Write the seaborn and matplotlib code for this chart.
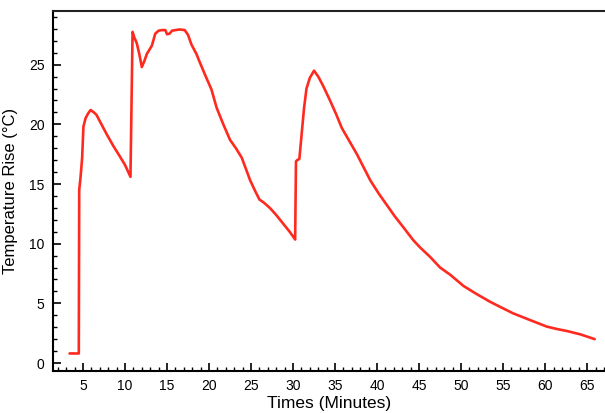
import matplotlib
matplotlib.use("Agg")
import matplotlib.pyplot as plt
from matplotlib.ticker import MultipleLocator
import seaborn as sns
import pandas as pd

time_min = [3.4, 4.5, 4.55, 4.7, 4.9, 5.05, 5.3, 5.6, 5.9, 6.3, 6.6, 7.2, 7.8, 8.6, 9.4,
            10.0, 10.65, 10.9, 11.1, 11.4, 11.7, 12.0, 12.3, 12.6, 13.2, 13.6, 14.0, 14.4,
            14.8, 15.0, 15.3, 15.6, 16.0, 16.5, 17.1, 17.5, 17.9, 18.5, 18.9, 19.5, 20.3,
            20.9, 21.7, 22.5, 23.2, 23.9, 24.9, 25.5, 26.0, 26.6, 27.3, 28.0, 28.8, 29.6,
            30.25, 30.35, 30.5, 30.75, 31.0, 31.3, 31.6, 32.0, 32.5, 33.0, 33.6, 34.4, 35.1,
            35.8, 36.7, 37.6, 38.4, 39.2, 40.2, 41.2, 42.1, 43.1, 44.3, 45.1, 46.3, 47.5,
            48.7, 50.3, 51.8, 53.45, 54.8, 56.2, 58.2, 60.2, 61.4, 62.6, 64.2, 65.9]
temp_rise = [0.8, 0.8, 14.5, 15.5, 17.2, 19.8, 20.5, 20.9, 21.2, 21.0, 20.8, 20.0, 19.2, 18.2, 17.3,
             16.6, 15.6, 27.75, 27.3, 26.8, 25.9, 24.8, 25.3, 25.9, 26.6, 27.6, 27.85, 27.9,
             27.9, 27.55, 27.6, 27.85, 27.9, 27.95, 27.9, 27.5, 26.7, 25.9, 25.2, 24.2, 22.9,
             21.4, 20.0, 18.7, 18.0, 17.2, 15.3, 14.4, 13.7, 13.4, 12.95, 12.4, 11.7, 11.0,
             10.35, 16.9, 17.0, 17.1, 19.0, 21.3, 23.0, 23.9, 24.5, 24.0, 23.2, 22.0, 20.9,
             19.7, 18.6, 17.5, 16.4, 15.3, 14.2, 13.2, 12.3, 11.4, 10.3, 9.7, 8.9, 8.0,
             7.4, 6.45, 5.8, 5.13, 4.65, 4.16, 3.6, 3.05, 2.85, 2.68, 2.4, 2.0]
x_ticks = [5, 10, 15, 20, 25, 30, 35, 40, 45, 50, 55, 60, 65]
y_ticks = [0, 5, 10, 15, 20, 25]

df = pd.DataFrame({"t": time_min, "T": temp_rise})

sns.set_theme(style="ticks")
plt.rcParams["font.family"] = ["Liberation Sans", "DejaVu Sans"]

fig = plt.figure(figsize=(6.05, 4.13), dpi=100)
ax = fig.add_axes([0.0876, 0.1017, 0.912, 0.8717])

sns.lineplot(data=df, x="t", y="T", ax=ax, sort=False, estimator=None,
             color="#ff2a1f", linewidth=1.9)

ax.set_xlim(1.43, 67.1)
ax.set_ylim(-0.67, 29.5)
ax.set_xticks(x_ticks)
ax.set_yticks(y_ticks)
ax.xaxis.set_minor_locator(MultipleLocator(1))
ax.yaxis.set_minor_locator(MultipleLocator(1))
ax.tick_params(which="major", direction="in", length=6, width=1.2, color="black",
               labelsize=10, labelcolor="black", pad=6)
ax.tick_params(which="minor", direction="in", length=3.2, width=1.0, color="black",
               bottom=True, left=True)
ax.tick_params(axis="x", which="both", top=False)
ax.tick_params(axis="y", which="both", right=False)

for side in ["left", "bottom"]:
    ax.spines[side].set_linewidth(1.5)
    ax.spines[side].set_color("black")
ax.spines["top"].set_linewidth(1.5)
ax.spines["top"].set_color("#222222")
ax.spines["right"].set_visible(False)

ax.set_xlabel("Times (Minutes)", fontsize=12.5, color="black", labelpad=2)
ax.set_ylabel("Temperature Rise (°C)", fontsize=12, color="black", labelpad=8)

fig.savefig("out.png", dpi=100)
